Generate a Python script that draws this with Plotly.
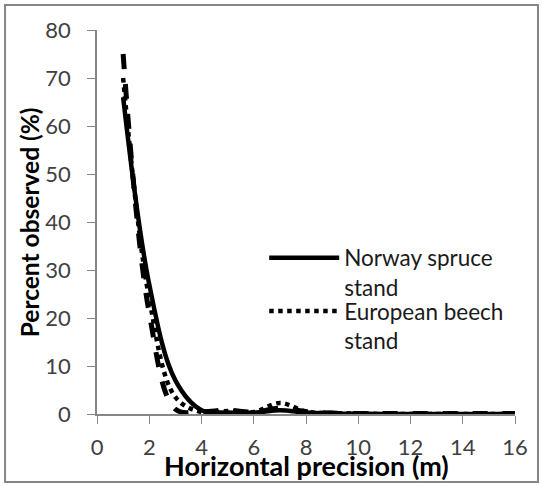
import plotly.graph_objects as go

# horizontal precision classes (m)
precision = [1, 2, 3, 4, 5, 6, 7, 8, 9, 10, 11, 12, 13, 14, 15, 16]

# percent observed (%) per stand
spruce = [66, 27, 7, 0.8, 0.3, 0.3, 0.8, 0.3, 0.1, 0.05, 0, 0, 0, 0, 0, 0]
beech = [70, 24, 3.5, 0.4, 0.6, 0.4, 2.3, 0.5, 0.2, 0.1, 0, 0, 0, 0, 0, 0]
third = [75, 21, 1, 0.5, 0.8, 0.4, 1.2, 0.5, 0.2, 0.1, 0.1, 0.1, 0.1, 0.1, 0.1, 0.1]

y_ticks = [0, 10, 20, 30, 40, 50, 60, 70, 80]
x_ticks = [0, 2, 4, 6, 8, 10, 12, 14, 16]

FONT = "Lato"
AXIS_GREY = "#868686"

fig = go.Figure()
fig.add_trace(go.Scatter(x=precision, y=third, mode="lines", showlegend=False,
                         line=dict(color="black", width=5, dash="dash", shape="spline")))
fig.add_trace(go.Scatter(x=precision, y=beech, mode="lines", name="European beech<br>stand",
                         legend="legend2",
                         line=dict(color="black", width=4.5, dash="dot", shape="spline")))
fig.add_trace(go.Scatter(x=precision, y=spruce, mode="lines", name="Norway spruce<br>stand",
                         line=dict(color="black", width=4.5, shape="spline")))

legend_style = dict(xanchor="left", yanchor="top", valign="top", itemwidth=70,
                    font=dict(family=FONT, size=22.5, color="#1a1a1a"),
                    bgcolor="rgba(0,0,0,0)")

fig.update_layout(
    width=542, height=486,
    margin=dict(l=97, r=27, t=30, b=72),
    paper_bgcolor="white", plot_bgcolor="white",
    font=dict(family=FONT, size=22, color="#404040"),
    showlegend=True,
    legend=dict(x=0.40, y=0.462, **legend_style),
    legend2=dict(x=0.40, y=0.323, **legend_style),
    xaxis=dict(range=[0, 16], tickvals=x_ticks, showgrid=False, zeroline=False,
               showline=True, linecolor=AXIS_GREY, linewidth=1.5,
               ticks="outside", ticklen=8, tickcolor=AXIS_GREY, ticklabelstandoff=5),
    yaxis=dict(range=[0, 80], tickvals=y_ticks, showgrid=False, zeroline=False,
               showline=True, linecolor=AXIS_GREY, linewidth=1.5,
               ticks="outside", ticklen=8, tickcolor=AXIS_GREY, ticklabelstandoff=12),
    annotations=[
        dict(text="<b>Horizontal precision (m)</b>", xref="paper", yref="paper",
             x=0.502, y=-0.135, xanchor="center", yanchor="middle", showarrow=False,
             font=dict(family=FONT, size=27, color="black")),
        dict(text="<b>Percent observed (%)</b>", xref="paper", yref="paper",
             x=-0.162, y=0.5, xanchor="center", yanchor="middle", showarrow=False,
             textangle=-90, font=dict(family=FONT, size=24.5, color="black")),
    ],
    shapes=[dict(type="rect", xref="paper", yref="paper",
                 x0=-0.22, x1=1.055, y0=-0.177, y1=1.065,
                 line=dict(color=AXIS_GREY, width=2), layer="below")],
)

# page has a default 8px body margin; drop it so the chart sits at the corner
fig.write_html("out.html", config={"displayModeBar": False},
               post_script="document.body.style.margin='0px';")
